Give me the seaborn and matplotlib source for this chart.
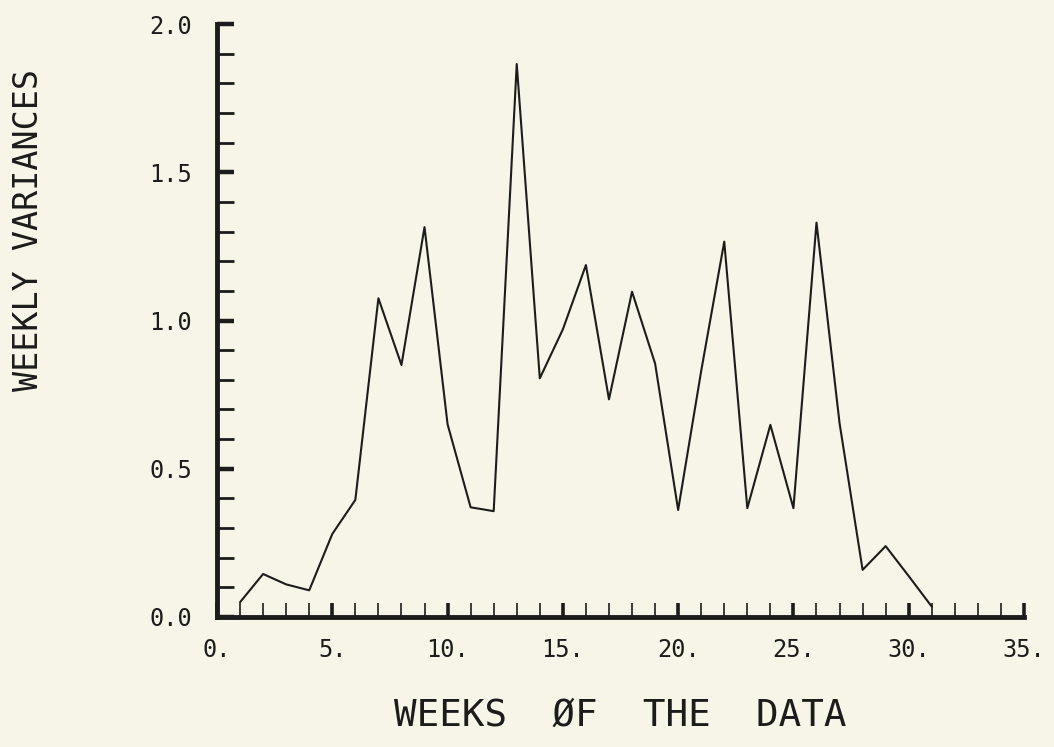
import matplotlib
matplotlib.use("Agg")
import matplotlib.pyplot as plt
import seaborn as sns
import numpy as np
from matplotlib.ticker import MultipleLocator

# data
weeks = list(range(1, 32))
variances = [0.05, 0.145, 0.11, 0.09, 0.28, 0.395, 1.075, 0.85, 1.315, 0.65,
             0.37, 0.357, 1.865, 0.805, 0.97, 1.187, 0.734, 1.097, 0.855, 0.361,
             0.83, 1.266, 0.367, 0.648, 0.367, 1.33, 0.654, 0.159, 0.239, 0.138,
             0.035]

x_ticks = [0, 5, 10, 15, 20, 25, 30, 35]
x_tick_labels = ["0.", "5.", "10.", "15.", "20.", "25.", "30.", "35."]
y_ticks = [0.0, 0.5, 1.0, 1.5, 2.0]
y_tick_labels = ["0.0", "0.5", "1.0", "1.5", "2.0"]

bg = "#f7f5e7"
ink = "#1c1c1a"

sns.set_style("ticks")
plt.rcParams["font.family"] = ["DejaVu Sans Mono"]

fig = plt.figure(figsize=(10.54, 7.47), dpi=100, facecolor=bg)
ax = fig.add_axes([217 / 1054, 1 - 617 / 747, 807 / 1054, 593 / 747])
ax.set_facecolor(bg)

sns.lineplot(x=weeks, y=variances, ax=ax, color=ink, linewidth=1.5)

ax.set_xlim(0, 35)
ax.set_ylim(0, 2.0)

# spines: only left and bottom, heavy plotter lines
for side in ["top", "right"]:
    ax.spines[side].set_visible(False)
for side in ["left", "bottom"]:
    ax.spines[side].set_linewidth(3.5)
    ax.spines[side].set_color(ink)
    ax.spines[side].set_capstyle("projecting")

ax.set_xticks(x_ticks)
ax.set_xticklabels(x_tick_labels)
ax.set_yticks(y_ticks)
ax.set_yticklabels(y_tick_labels)
ax.xaxis.set_minor_locator(MultipleLocator(1))
ax.yaxis.set_minor_locator(MultipleLocator(0.1))

ax.tick_params(axis="x", which="major", direction="in", length=10, width=2.6,
               color=ink, labelsize=17, pad=15, labelcolor=ink)
ax.tick_params(axis="x", which="minor", direction="in", length=10, width=1.2,
               color=ink)
ax.tick_params(axis="y", which="major", direction="in", length=12, width=3.2,
               color=ink, labelsize=17, pad=18, labelcolor=ink)
ax.tick_params(axis="y", which="minor", direction="in", length=12, width=2.0,
               color=ink)

# plotter lettering: x label is spaced out more widely than the y label
ax.set_xlabel("WEEKS  ØF  THE  DATA", fontsize=27, color=ink, va="center")
ax.set_ylabel("WEEKLY VARIANCES", fontsize=24, color=ink, va="center")
ax.xaxis.set_label_coords(0.5, (617 - 716) / 593)
ax.yaxis.set_label_coords((28 - 217) / 807, (617 - 230) / 593)

fig.savefig("out.png", dpi=100, facecolor=bg)
